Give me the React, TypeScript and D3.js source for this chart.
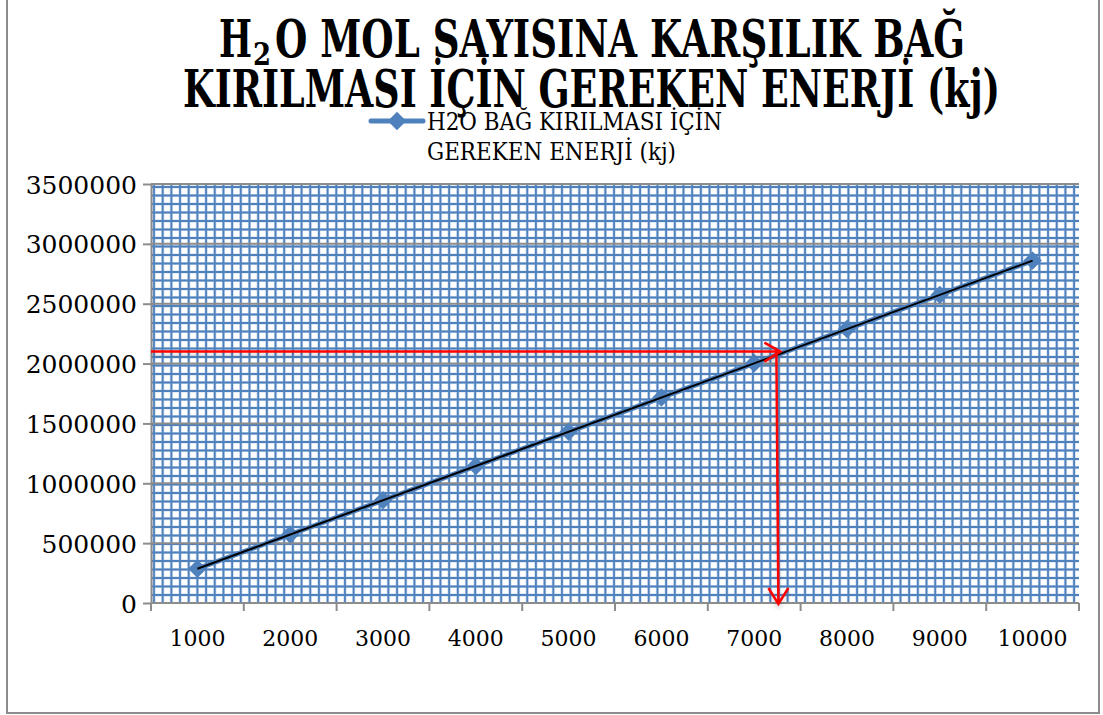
import React, { useRef, useEffect } from 'react';
import * as d3 from 'd3';

// mol counts (category axis)
const molCounts = ['1000', '2000', '3000', '4000', '5000', '6000', '7000', '8000', '9000', '10000'];
// energy needed, kj
const energyValues = [286000, 572000, 858000, 1144000, 1430000, 1716000, 2002000, 2288000, 2574000, 2860000];
const yTickValues = [0, 500000, 1000000, 1500000, 2000000, 2500000, 3000000, 3500000];
// red read-off arrows
const readEnergy = 2100000;
const readMol = 7250;

const legendLines = ['H2O BAĞ KIRILMASI İÇİN', 'GEREKEN ENERJİ (kj)'];

const W = 1103;
const H = 715;

const App = () => {
    const ref = useRef<SVGSVGElement | null>(null);

    useEffect(() => {
        if (!ref.current) return;
        const svg = d3.select(ref.current);
        svg.selectAll('*').remove();

        const margin = { top: 184, right: 24, bottom: 112, left: 151 };
        const left = margin.left, right = W - margin.right;
        const top = margin.top, bottom = H - margin.bottom;

        const blue = '#4f81bd';
        const serif = "'DejaVu Serif', serif";

        const x = d3.scaleBand().domain(molCounts).range([left, right]).padding(0);
        const y = d3.scaleLinear().domain([0, 3500000]).range([bottom, top]);
        const cx = (m: string) => (x(m) as number) + x.bandwidth() / 2;

        // shadow for the arrows
        const defs = svg.append('defs');
        const f = defs.append('filter').attr('id', 'shd').attr('x', '-20%').attr('y', '-20%').attr('width', '140%').attr('height', '140%');
        f.append('feDropShadow').attr('dx', 0).attr('dy', 3).attr('stdDeviation', 2).attr('flood-color', '#000').attr('flood-opacity', 0.2);

        // outer frame
        svg.append('rect').attr('x', 7).attr('y', -5).attr('width', 1092).attr('height', 718)
            .attr('fill', '#fff').attr('stroke', '#8c8c8c').attr('stroke-width', 2);

        // graph-paper background
        const paper = svg.append('g');
        const vLines = d3.range(left + 3, right, 8.68);
        const hLines = d3.range(top + 3, bottom, 8.5);
        paper.append('g').selectAll('line').data(vLines).join('line')
            .attr('x1', d => d).attr('x2', d => d).attr('y1', top).attr('y2', bottom)
            .attr('stroke', '#c9d9ee').attr('stroke-width', 3.2);
        paper.append('g').selectAll('line').data(hLines).join('line')
            .attr('x1', left).attr('x2', right).attr('y1', d => d).attr('y2', d => d)
            .attr('stroke', '#c9d9ee').attr('stroke-width', 3.2);
        paper.append('g').selectAll('line').data(vLines).join('line')
            .attr('x1', d => d).attr('x2', d => d).attr('y1', top).attr('y2', bottom)
            .attr('stroke', blue).attr('stroke-width', 1.8);
        paper.append('g').selectAll('line').data(hLines).join('line')
            .attr('x1', left).attr('x2', right).attr('y1', d => d).attr('y2', d => d)
            .attr('stroke', blue).attr('stroke-width', 1.8);

        // major gridlines
        svg.append('g').selectAll('line').data(yTickValues.slice(1)).join('line')
            .attr('x1', left).attr('x2', right).attr('y1', d => y(d)).attr('y2', d => y(d))
            .attr('stroke', '#8c8c8c').attr('stroke-width', 2);

        // y axis
        const yAxis = svg.append('g').attr('transform', `translate(${left},0)`)
            .call(d3.axisLeft(y).tickValues(yTickValues).tickSize(8).tickSizeOuter(0).tickFormat(d => String(d)));
        yAxis.selectAll('line, path').attr('stroke', '#8c8c8c').attr('stroke-width', 2);
        yAxis.selectAll('text').attr('font-family', serif).attr('font-size', 25).attr('fill', '#000')
            .attr('x', -14).attr('dy', '0.36em');

        // x axis
        const boundaries = molCounts.map(m => x(m) as number).concat([right]);
        const xg = svg.append('g');
        xg.append('line').attr('x1', left).attr('x2', right).attr('y1', bottom).attr('y2', bottom)
            .attr('stroke', '#8c8c8c').attr('stroke-width', 2);
        xg.selectAll('line.t').data(boundaries).join('line')
            .attr('x1', d => d).attr('x2', d => d).attr('y1', bottom).attr('y2', bottom + 8)
            .attr('stroke', '#8c8c8c').attr('stroke-width', 2);
        xg.selectAll('text').data(molCounts).join('text')
            .attr('x', d => cx(d)).attr('y', bottom + 43)
            .attr('text-anchor', 'middle').attr('font-family', serif).attr('font-size', 22)
            .text(d => d);

        // series
        const pts = molCounts.map((m, i) => [cx(m), y(energyValues[i])] as [number, number]);
        svg.append('path').attr('d', d3.line()(pts)).attr('fill', 'none')
            .attr('stroke', blue).attr('stroke-width', 5);
        const diamond = d3.symbol(d3.symbolSquare, 170);
        svg.append('g').selectAll('path').data(pts).join('path')
            .attr('d', diamond).attr('fill', blue)
            .attr('transform', d => `translate(${d[0]},${d[1]}) rotate(45)`);

        // trendline
        svg.append('path').attr('d', d3.line()([pts[0], pts[pts.length - 1]])).attr('fill', 'none')
            .attr('stroke', '#000').attr('stroke-width', 2);

        // read-off arrows
        const rx = cx('7000') + x.bandwidth() * (readMol - 7000) / 1000;
        const ry = y(readEnergy);
        const arr = svg.append('g').attr('stroke', '#ff0000').attr('stroke-width', 2.5)
            .attr('fill', 'none').attr('filter', 'url(#shd)');
        const hx = rx + 3;
        arr.append('path').attr('d', `M${left},${ry}H${hx}M${hx - 16},${ry - 9}L${hx},${ry}L${hx - 16},${ry + 10}`);
        const vy = bottom + 1;
        arr.append('path').attr('d', `M${rx - 1},${ry}L${rx + 1},${vy}M${rx - 9},${vy - 16}L${rx + 1},${vy}L${rx + 11},${vy - 16}`);

        // title
        const title = svg.append('g').attr('font-family', serif).attr('font-weight', 'bold')
            .attr('fill', '#000').attr('text-anchor', 'start');
        title.append('text').attr('x', 219).attr('y', 57).attr('font-size', 52)
            .attr('textLength', 33).attr('lengthAdjust', 'spacingAndGlyphs').text('H');
        title.append('text').attr('x', 253).attr('y', 65).attr('font-size', 32)
            .attr('textLength', 18).attr('lengthAdjust', 'spacingAndGlyphs').text('2');
        title.append('text').attr('x', 275).attr('y', 57).attr('font-size', 52)
            .attr('textLength', 690).attr('lengthAdjust', 'spacingAndGlyphs')
            .text('O MOL SAYISINA KARŞILIK  BAĞ');
        title.append('text').attr('x', 183).attr('y', 107).attr('font-size', 52)
            .attr('textLength', 817).attr('lengthAdjust', 'spacingAndGlyphs')
            .text('KIRILMASI İÇİN GEREKEN ENERJİ (kj)');

        // legend
        const lg = svg.append('g');
        lg.append('line').attr('x1', 371).attr('x2', 423).attr('y1', 121).attr('y2', 121)
            .attr('stroke', blue).attr('stroke-width', 5).attr('stroke-linecap', 'round');
        lg.append('path').attr('d', diamond).attr('fill', blue)
            .attr('transform', 'translate(397,121) rotate(45)');
        lg.selectAll('text').data(legendLines).join('text')
            .attr('x', 427).attr('y', (d, i) => 130 + i * 30)
            .attr('font-family', serif).attr('font-size', 24)
            .attr('textLength', (d, i) => (i === 0 ? 295 : 249)).attr('lengthAdjust', 'spacingAndGlyphs')
            .text(d => d);
    }, []);

    return (
        <svg ref={ref} width={W} height={H}
            style={{ position: 'absolute', left: 0, top: 0, background: '#fff' }} />
    );
};

export default App;
